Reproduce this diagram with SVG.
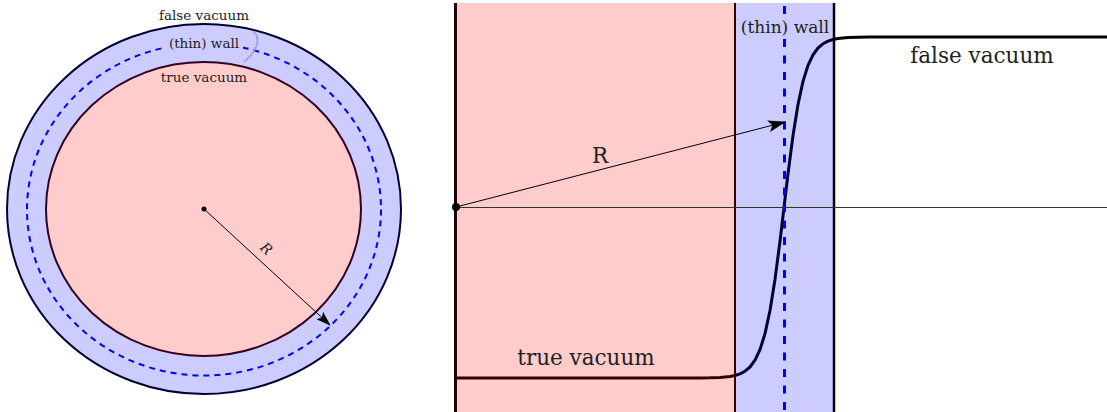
<svg xmlns="http://www.w3.org/2000/svg" width="1107" height="412" viewBox="0 0 1107 412">
<style>
.serif{font-family:"DejaVu Serif","Liberation Serif",serif;fill:#222;text-anchor:middle}
.sm{font-size:13.5px}
.lg{font-size:21.5px}
.md{font-size:17px}
</style>
<defs>
<marker id="ahS" viewBox="0 0 15 10" refX="14" refY="5" markerWidth="15" markerHeight="10" markerUnits="userSpaceOnUse" orient="auto">
<path d="M0,0 L15,5 L0,10 L3,5 Z" fill="#000"/>
</marker>
<marker id="ahL" viewBox="0 0 18 12" refX="17" refY="6" markerWidth="18" markerHeight="12" markerUnits="userSpaceOnUse" orient="auto">
<path d="M0,0 L18,6 L0,12 L4,6 Z" fill="#000"/>
</marker>
</defs>
<rect width="1107" height="412" fill="#fff"/>

<!-- Left bubble -->
<g id="bubble">
<ellipse cx="204" cy="209" rx="197" ry="185" fill="#ccccff" stroke="#000033" stroke-width="2"/>
<ellipse cx="204" cy="209.5" rx="177" ry="166" fill="none" stroke="#0000ff" stroke-width="2" stroke-dasharray="6 5"/>
<ellipse cx="203.5" cy="209" rx="157.5" ry="147" fill="#ffcccc" stroke="#330022" stroke-width="2"/>
<path d="M253,31 C259,36 258,42 256,47 C254,53 250,56 244,62" fill="none" stroke="#9999ff" stroke-width="1.5"/>
<circle cx="204" cy="209" r="2.5" fill="#000"/>
</g>
<g id="bubble-labels">
<text class="serif sm" x="204" y="20">false vacuum</text>
<rect x="165" y="36" width="78" height="16" fill="#ccccff"/>
<text class="serif sm" x="204" y="48">(thin) wall</text>
<text class="serif sm" x="204" y="82">true vacuum</text>
<text class="serif" x="0" y="0" font-size="14" font-style="italic" transform="translate(263,252) rotate(43)">R</text>
</g>

<!-- Right profile -->
<g id="profile-lines">
<line x1="455.5" y1="3" x2="455.5" y2="412" stroke="#000" stroke-width="3"/>
<line x1="735" y1="3" x2="735" y2="412" stroke="#000" stroke-width="2"/>
<line x1="834" y1="3" x2="834" y2="412" stroke="#000" stroke-width="2.5"/>
<polyline fill="none" stroke="#000" stroke-width="3" stroke-linejoin="round" points="455,378 700,377.9 710,377.8 720,377.4 730,376.5 735,375.5 740,373.9 745,371.2 750,367 755,360.2 760,349.6 765,333.6 770,310.5 775,279.4 780,241.2 784,207.5 788,173.8 793,135.6 798,104.5 803,81.4 808,65.4 813,54.8 818,48 823,43.8 828,41.1 833,39.5 838,38.5 848,37.6 858,37.2 868,37.1 1107,37"/>
</g>
<g id="true-region">
<rect x="455" y="3" width="280" height="409" fill="#ff0000" fill-opacity="0.2"/>
</g>
<g id="wall-region">
<rect x="735" y="3" width="99" height="409" fill="#0000ff" fill-opacity="0.2"/>
<line x1="784.5" y1="6" x2="784.5" y2="412" stroke="#0000ff" stroke-width="3" stroke-dasharray="8 8.5"/>
<rect x="740" y="16" width="90" height="23" fill="#ccccff"/>
<text class="serif md" x="785" y="33">(thin) wall</text>
</g>
<g id="connectors">
<line x1="456" y1="207.5" x2="1107" y2="207.5" stroke="#333" stroke-width="1"/>
<line x1="456" y1="207" x2="785" y2="122" stroke="#000" stroke-width="1" marker-end="url(#ahL)"/>
<line x1="204" y1="209" x2="330" y2="325" stroke="#000" stroke-width="1" marker-end="url(#ahS)"/>
<circle cx="456" cy="207" r="4" fill="#000"/>
</g>
<g id="profile-labels">
<text class="serif lg" x="600" y="163">R</text>
<text class="serif lg" x="982" y="63">false vacuum</text>
<text class="serif lg" x="586" y="365">true vacuum</text>
</g>
</svg>
